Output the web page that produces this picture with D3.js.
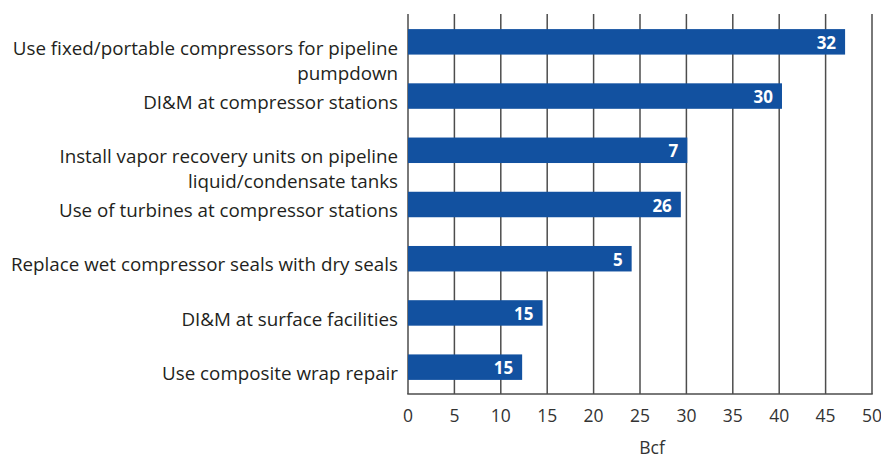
<!DOCTYPE html>
<html><head><meta charset="utf-8">
<script src="https://cdn.jsdelivr.net/npm/d3@7"></script>
<style>body{margin:0;background:#fff}svg{display:block}</style>
</head><body>
<svg id="c" width="881" height="459"></svg>
<script>
const categories = [
  ["Use fixed/portable compressors for pipeline", "pumpdown"],
  ["DI&M at compressor stations"],
  ["Install vapor recovery units on pipeline", "liquid/condensate tanks"],
  ["Use of turbines at compressor stations"],
  ["Replace wet compressor seals with dry seals"],
  ["DI&M at surface facilities"],
  ["Use composite wrap repair"]
];
const barLengths = [47.1, 40.3, 30.1, 29.4, 24.1, 14.5, 12.3];
const barLabels = ["32", "30", "7", "26", "5", "15", "15"];
const xTicks = [0, 5, 10, 15, 20, 25, 30, 35, 40, 45, 50];
const axisTitle = "Bcf";

(function () {
const svg = d3.select("#c");
const pLeft = 408, pRight = 872, pTop = 14, pBottom = 394;
const x = d3.scaleLinear().domain([0, 50]).range([pLeft, pRight]);
const y = d3.scaleBand().domain(d3.range(categories.length)).range([15, 394]).paddingInner(0.53).paddingOuter(0.26);
const font = "'Open Sans', sans-serif";

svg.append("g").selectAll("line").data(xTicks).join("line")
  .attr("x1", d => x(d)).attr("x2", d => x(d))
  .attr("y1", pTop).attr("y2", pBottom)
  .attr("stroke", "#4d4d4d").attr("stroke-width", 1.5);
svg.append("line").attr("x1", x(0) - 0.75).attr("x2", x(50) + 0.75)
  .attr("y1", pBottom).attr("y2", pBottom).attr("stroke", "#4d4d4d").attr("stroke-width", 1.5);

svg.append("g").selectAll("rect").data(barLengths).join("rect")
  .attr("x", x(0)).attr("y", (d, i) => y(i))
  .attr("width", d => x(d) - x(0)).attr("height", y.bandwidth())
  .attr("fill", "#1251a0");

svg.append("g").selectAll("text").data(barLengths).join("text")
  .attr("x", d => x(d) - 9).attr("y", (d, i) => y(i) + y.bandwidth() / 2 + 1)
  .attr("dy", "0.36em").attr("text-anchor", "end")
  .attr("fill", "#fff").attr("font-family", font).attr("font-weight", "bold").attr("font-size", 17)
  .text((d, i) => barLabels[i]);

const lab = svg.append("g").attr("font-family", font).attr("font-size", 18.8).attr("fill", "#231f20").attr("text-anchor", "end");
categories.forEach((lines, i) => {
  lines.forEach((t, j) => {
    lab.append("text").attr("x", 398)
      .attr("y", y(i) + y.bandwidth() / 2 + 6 + j * 25)
      .attr("dy", "0.36em").text(t);
  });
});

svg.append("g").selectAll("text").data(xTicks).join("text")
  .attr("x", d => x(d)).attr("y", 416).attr("dy", "0.36em")
  .attr("text-anchor", "middle").attr("font-family", font).attr("font-size", 17.5).attr("fill", "#333")
  .text(d => d);

svg.append("text").attr("x", 652).attr("y", 448).attr("dy", "0.36em")
  .attr("text-anchor", "middle").attr("font-family", font).attr("font-size", 17.5).attr("fill", "#333")
  .text(axisTitle);
})();
</script>
</body></html>
